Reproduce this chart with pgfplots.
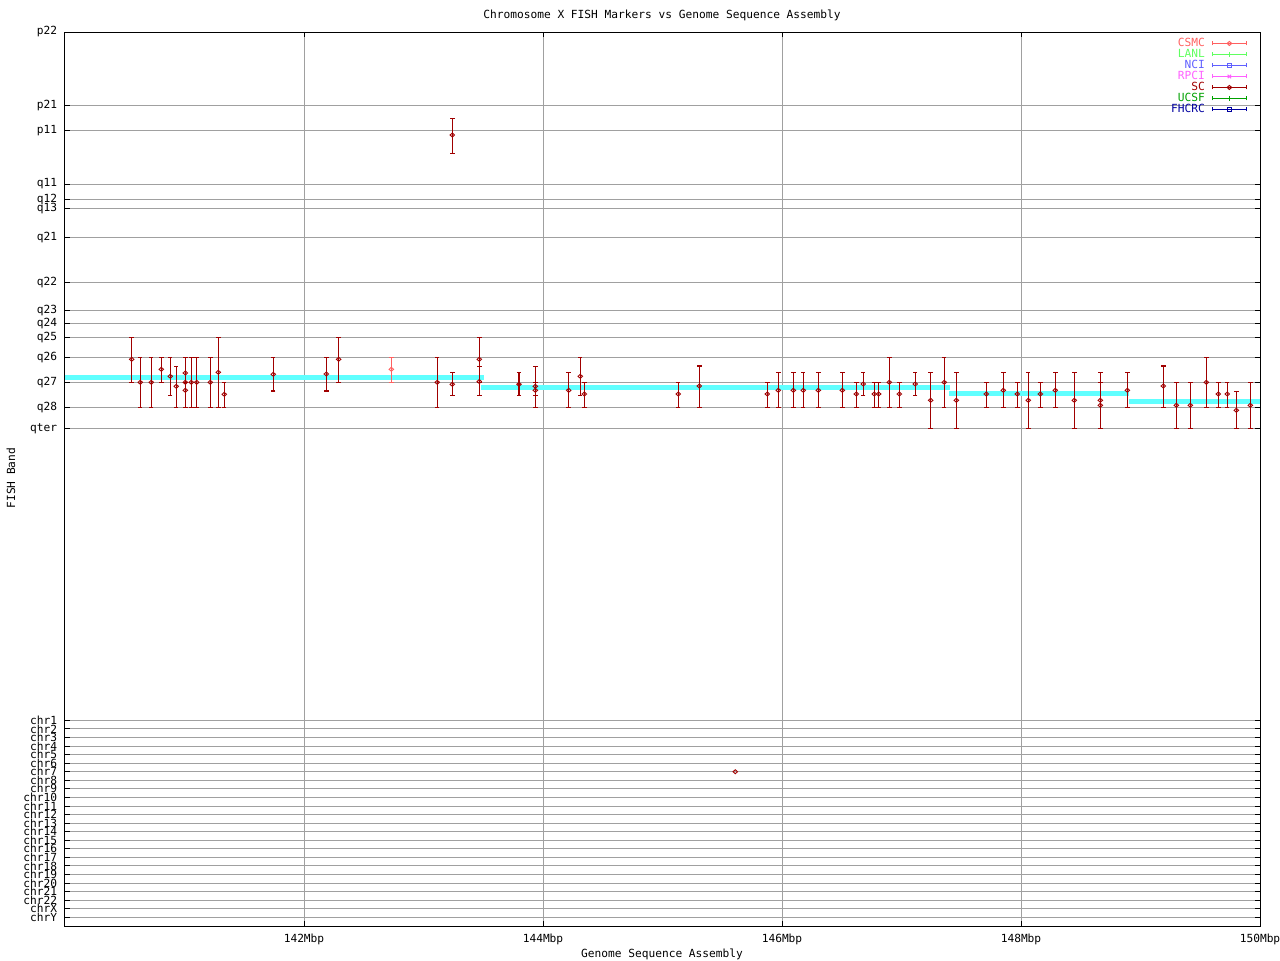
\documentclass[border=0pt]{standalone}
\usepackage{pgfplots}
\pgfplotsset{compat=1.18}
\usepackage{pgfplotstable}
\usepackage{fontspec}
\setmainfont{DejaVu Sans Mono}
\definecolor{csmc}{HTML}{FF6060}
\definecolor{lanl}{HTML}{60FF60}
\definecolor{nci}{HTML}{6060FF}
\definecolor{rpci}{HTML}{FF60FF}
\definecolor{sc}{HTML}{A00000}
\definecolor{ucsf}{HTML}{00A000}
\definecolor{fhcrc}{HTML}{0000A0}
\definecolor{asm}{HTML}{60FFFF}
\definecolor{gridgray}{HTML}{A0A0A0}

% SC markers: x in Mbp, y = band position, lo/hi = band range
\pgfplotstableread{
x y lo hi
140.558 359.3 337.3 382.3
140.630 382.3 357.3 407.3
140.722 382.3 357.3 407.3
140.806 369.3 357.3 382.3
140.881 376.3 357.3 395.3
140.931 386.3 366.3 407.3
141.007 373.0 357.3 407.3
141.007 382.3 357.3 407.3
141.007 390.3 382.3 407.3
141.057 382.3 357.3 407.3
141.102 382.3 357.3 407.3
141.216 382.3 357.3 407.3
141.283 372.3 337.3 407.3
141.333 394.3 382.3 407.3
141.743 374.3 357.3 391.0
142.187 374.0 357.3 391.0
142.290 359.3 337.3 382.3
143.115 382.3 357.3 407.3
143.241 384.3 372.3 395.3
143.241 135.0 118.3 153.3
143.467 359.3 337.3 382.3
143.467 381.5 366.3 395.3
143.799 384.3 372.3 395.3
143.936 386.3 366.3 395.3
143.936 390.3 382.3 407.3
144.215 390.3 372.3 407.3
144.312 376.3 357.3 395.3
144.346 394.0 382.3 407.3
145.132 394.0 382.3 407.3
145.308 386.0 366.0 407.3
145.877 394.0 382.3 407.3
145.969 390.3 372.3 407.3
146.095 390.3 372.3 407.3
146.178 390.3 372.3 407.3
146.304 390.3 372.3 407.3
146.505 390.3 372.3 407.3
146.622 394.0 382.3 407.3
146.680 384.0 372.3 395.3
146.772 394.0 382.3 407.3
146.809 394.0 382.3 407.3
146.898 382.3 357.3 407.3
146.982 394.0 382.3 407.3
147.115 384.0 372.3 395.3
147.244 400.3 372.3 428.3
147.358 382.3 357.3 407.3
147.459 400.3 372.3 428.3
147.710 394.0 382.3 407.3
147.852 390.3 372.3 407.3
147.969 394.0 382.3 407.3
148.061 400.3 372.3 428.3
148.162 394.0 382.3 407.3
148.287 390.3 372.3 407.3
148.446 400.3 372.3 428.3
148.664 400.3 372.3 428.3
148.664 405.3 382.3 428.3
148.890 390.3 372.3 407.3
149.191 386.0 366.0 407.3
149.300 405.3 382.3 428.3
149.417 405.3 382.3 428.3
149.551 382.3 357.3 407.3
149.651 394.0 382.3 407.3
149.726 394.0 382.3 407.3
149.802 410.3 391.7 428.3
149.919 405.3 382.3 428.3
}\scdata

\pgfplotstableread{
x y lo hi
142.731 369.3 357.3 382.3
}\csmcdata

\pgfplotsset{fishleg/.style={legend image code/.code={
  \draw[##1,mark=none,line width=0.6pt] (0pt,0pt) -- (17pt,0pt) (0pt,-1pt) -- (0pt,1pt) (17pt,-1pt) -- (17pt,1pt);
  \path[##1,line width=0.5pt] plot coordinates {(8.5pt,0pt)};
}}}

\begin{document}
\begin{tikzpicture}[font=\fontsize{5.6}{6}\selectfont]
\begin{axis}[
  scale only axis, width=597.5pt, height=447pt,
  xmin=140, xmax=150, ymin=32, ymax=926, y dir=reverse,
  /pgf/number format/assume math mode=true,
  font=\fontsize{5.6}{6}\selectfont,
  xtick={142,144,146,148,150},
  xticklabels={142Mbp,144Mbp,146Mbp,148Mbp,150Mbp},
  ytick={32,105.3,130.3,184,199.3,208.3,237.3,282.3,310.3,323.3,337.3,357.3,382.3,407.3,428.3,
    720.3,728.9,737.4,746.0,754.6,763.1,771.7,780.3,788.8,797.4,806.0,814.5,823.1,831.7,840.2,848.8,857.3,865.9,874.5,883.0,891.6,900.2,908.7,917.3},
  yticklabels={p22,p21,p11,q11,q12,q13,q21,q22,q23,q24,q25,q26,q27,q28,qter,
    chr1,chr2,chr3,chr4,chr5,chr6,chr7,chr8,chr9,chr10,chr11,chr12,chr13,chr14,chr15,chr16,chr17,chr18,chr19,chr20,chr21,chr22,chrX,chrY},
  grid=major, major grid style={gridgray, line width=0.5pt},
  tick align=inside, major tick length=2.5pt, tick style={black, line width=0.5pt},
  axis line style={line width=0.5pt},
  xticklabel style={inner sep=0pt, yshift=-4pt},
  yticklabel style={inner sep=0pt, xshift=-3.8pt},
  every axis title shift=0pt,
  title={Chromosome X FISH Markers vs Genome Sequence Assembly},
  title style={at={(axis description cs:0.4996,1.019)}, anchor=center, inner sep=0pt},
  xlabel={Genome Sequence Assembly},
  xlabel style={at={(axis description cs:0.4996,-0.0313)}, anchor=center, inner sep=0pt},
  ylabel={FISH Band},
  ylabel style={at={(axis description cs:-0.0452,0.501)}, anchor=center, inner sep=0pt},
  legend style={draw=none, fill=none, at={(axis description cs:0.98912,0.9920)}, anchor=north east,
    inner sep=0pt, outer sep=0pt, row sep=1.2pt, column sep=3.5pt,
    nodes={inner sep=0pt, text height=3.8pt, text depth=0.5pt}},
  legend cell align=right, legend plot pos=right,
]
\coordinate (bl) at (axis description cs:0,0);
\coordinate (tr) at (axis description cs:1,1);

\addlegendimage{color=csmc, mark=diamond, mark size=1pt, mark options={xscale=1.5, draw=csmc}, fishleg}
\addlegendentry{\textcolor{csmc}{CSMC}}
\addlegendimage{color=lanl, mark=|, mark size=1.3pt, mark options={draw=lanl}, fishleg}
\addlegendentry{\textcolor{lanl}{LANL}}
\addlegendimage{color=nci, mark=square, mark size=1pt, mark options={draw=nci}, fishleg}
\addlegendentry{\textcolor{nci}{NCI}}
\addlegendimage{color=rpci, mark=x, mark size=1.2pt, mark options={draw=rpci}, fishleg}
\addlegendentry{\textcolor{rpci}{RPCI}}
\addlegendimage{color=sc, mark=diamond, mark size=1pt, mark options={xscale=1.5, draw=sc}, fishleg}
\addlegendentry{\textcolor{sc}{SC}}
\addlegendimage{color=ucsf, mark=|, mark size=1.3pt, mark options={draw=ucsf}, fishleg}
\addlegendentry{\textcolor{ucsf}{UCSF}}
\addlegendimage{color=fhcrc, mark=square, mark size=1pt, mark options={draw=fhcrc}, fishleg}
\addlegendentry{\textcolor{fhcrc}{FHCRC}}

% assembly line
\addplot[asm, line width=2.5pt, forget plot] coordinates {(140,377) (143.506,377)};
\addplot[asm, line width=2.5pt, forget plot] coordinates {(143.48,387) (147.406,387)};
\addplot[asm, line width=2.5pt, forget plot] coordinates {(147.40,393) (148.904,393)};
\addplot[asm, line width=2.5pt, forget plot] coordinates {(148.904,401) (150,401)};

\addplot[sc, only marks, mark=diamond, mark size=1pt, mark options={xscale=1.5, line width=0.45pt, draw=sc, fill=white}, forget plot,
  error bars/.cd, y dir=both, y explicit, error mark=|,
  error bar style={draw=sc, line width=0.6pt}, error mark options={draw=sc, color=sc, mark size=1.1pt, line width=0.6pt}]
  table[x=x, y=y, y error plus expr=\thisrow{hi}-\thisrow{y}, y error minus expr=\thisrow{y}-\thisrow{lo}] {\scdata};

\addplot[csmc, only marks, mark=diamond, mark size=1pt, mark options={xscale=1.5, line width=0.45pt, draw=csmc, fill=white}, forget plot,
  error bars/.cd, y dir=both, y explicit, error mark=|,
  error bar style={draw=csmc, line width=0.6pt}, error mark options={draw=csmc, color=csmc, mark size=1.1pt, line width=0.6pt}]
  table[x=x, y=y, y error plus expr=\thisrow{hi}-\thisrow{y}, y error minus expr=\thisrow{y}-\thisrow{lo}] {\csmcdata};

\addplot[sc, only marks, mark=diamond, mark size=1pt, mark options={xscale=1.5, line width=0.45pt, draw=sc}, forget plot]
  coordinates {(145.609,771.7)};
\end{axis}
\pgfresetboundingbox
\path[use as bounding box] ([shift={(-32.5pt,-17pt)}]bl) rectangle ([shift={(10pt,16pt)}]tr);
\end{tikzpicture}
\end{document}
